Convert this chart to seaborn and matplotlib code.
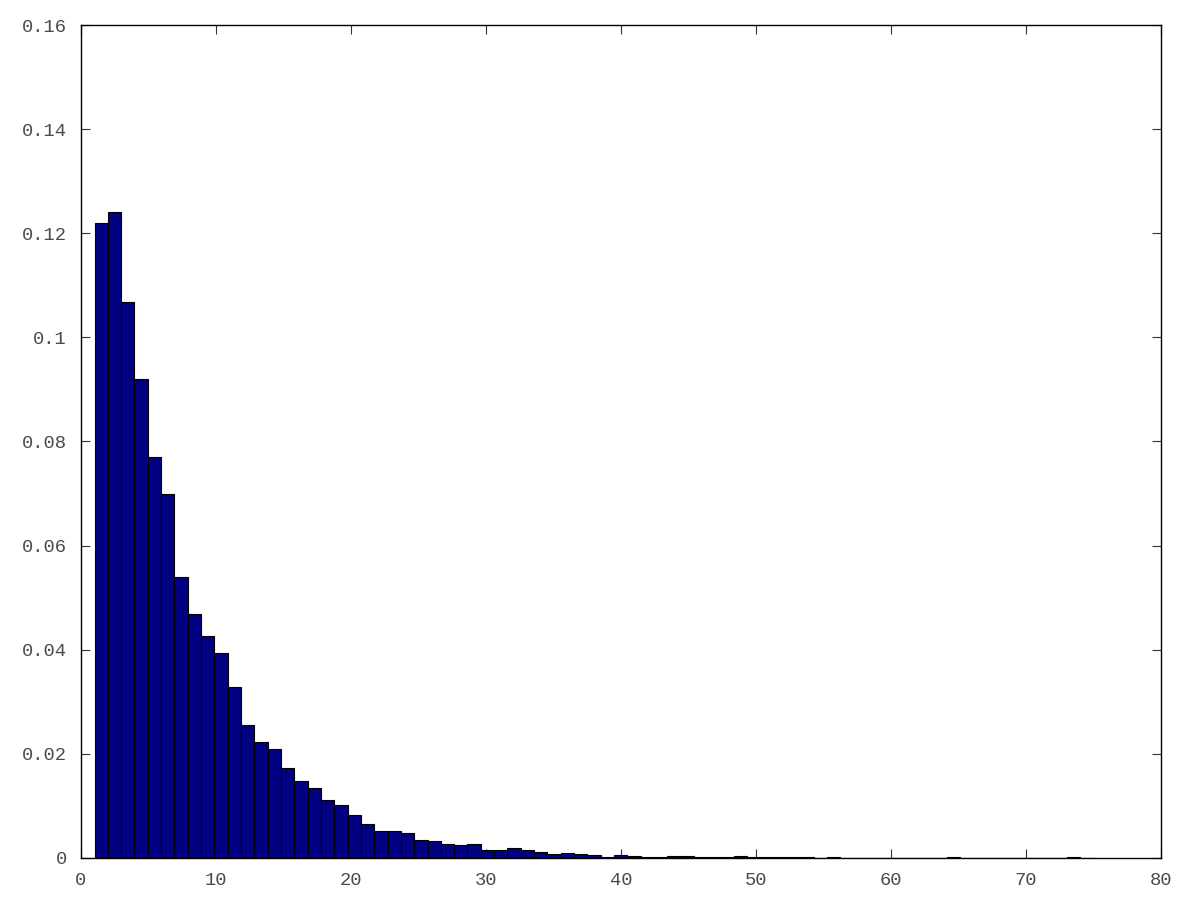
import numpy as np
import pandas as pd
import matplotlib
matplotlib.use("Agg")
import matplotlib.pyplot as plt
from matplotlib.ticker import FuncFormatter
import seaborn as sns

# histogram: 75 equal bins between 1 and 75, relative frequencies
bin_lo = 1
bin_hi = 75
n_bins = 75

freq = [
    0.1219, 0.1240, 0.1067, 0.0921, 0.0770, 0.0699, 0.0539, 0.0468, 0.0427, 0.0394,
    0.0328, 0.0255, 0.0223, 0.0209, 0.0173, 0.0148, 0.0135, 0.0111, 0.0102, 0.0083,
    0.0065, 0.0051, 0.0051, 0.0048, 0.0035, 0.0032, 0.0027, 0.0025, 0.0027, 0.0016,
    0.0015, 0.0020, 0.0016, 0.0011, 0.0008, 0.0010, 0.0008, 0.0005, 0.0002, 0.0005,
    0.0004, 0.0001, 0.0001, 0.0003, 0.0003, 0.0001, 0.0002, 0.0001, 0.0004, 0.0001,
    0.0001, 0.0001, 0.0001, 0.0001, 0.0, 0.0001, 0.0, 0.0, 0.0, 0.0,
    0.0, 0.0, 0.0, 0.0, 0.0001, 0.0, 0.0, 0.0, 0.0, 0.0,
    0.0, 0.0, 0.0, 0.0001, 0.0,
]

x_ticks = [0, 10, 20, 30, 40, 50, 60, 70, 80]
y_ticks = [0, 0.02, 0.04, 0.06, 0.08, 0.1, 0.12, 0.14, 0.16]

sns.set_theme(style="white")
plt.rcParams["font.family"] = ["Liberation Mono", "DejaVu Sans Mono"]

edges = np.linspace(bin_lo, bin_hi, n_bins + 1)
df = pd.DataFrame({"value": (edges[:-1] + edges[1:]) / 2, "freq": freq})

fig = plt.figure(figsize=(12, 9), dpi=100)
ax = fig.add_axes([0.0675, 0.0467, 0.9, 0.9255])

sns.histplot(data=df, x="value", weights="freq", bins=n_bins,
             binrange=(bin_lo, bin_hi), stat="count",
             color="#000080", edgecolor="black", linewidth=0.8,
             alpha=1, ax=ax)

ax.set_xlim(0, 80)
ax.set_ylim(0, 0.16)
ax.set_xticks(x_ticks)
ax.set_yticks(y_ticks)
ax.yaxis.set_major_formatter(FuncFormatter(lambda v, p: "%g" % v))
ax.xaxis.set_major_formatter(FuncFormatter(lambda v, p: "%g" % v))
ax.set_xlabel("")
ax.set_ylabel("")

ax.tick_params(direction="in", length=6.5, width=0.8, color="#333333",
               labelsize=13.5, labelcolor="#4a4a4a", pad=10,
               top=True, right=True, bottom=True, left=True)

for s in ax.spines.values():
    s.set_visible(True)
    s.set_color("black")
    s.set_linewidth(1.0)

fig.savefig("out.png", dpi=100)
plt.close(fig)
